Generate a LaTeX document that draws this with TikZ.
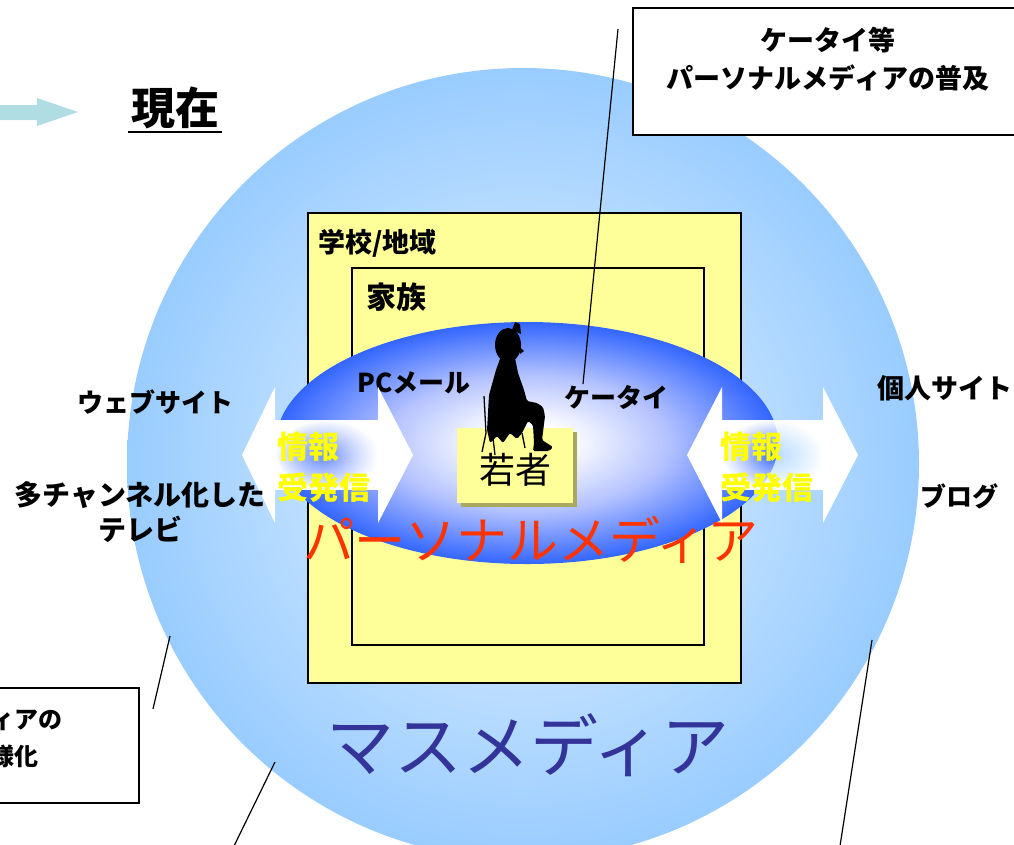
\documentclass[tikz,border=0pt]{standalone}
\usepackage{fontspec}
\setmainfont{Noto Sans CJK JP}
\usetikzlibrary{fadings}

\definecolor{massout}{HTML}{99CCFF}
\definecolor{massin}{HTML}{D2E9FF}
\definecolor{persout}{HTML}{3366FF}
\definecolor{persmid}{HTML}{B4C2FF}
\definecolor{boxyellow}{HTML}{FFFF99}
\definecolor{shadowolive}{HTML}{A8A860}
\definecolor{nowteal}{HTML}{B0DCE3}
\definecolor{redtext}{HTML}{FF3300}
\definecolor{massblue}{HTML}{333399}
\definecolor{infoyellow}{HTML}{FFFF00}

% soft glow of the mass-media disc and of the personal-media ellipse
\pgfdeclareradialshading{massglow}{\pgfpoint{0bp}{0bp}}{color(0bp)=(massin); color(7bp)=(massin); color(25bp)=(massout); color(50bp)=(massout)}
\pgfdeclareradialshading{persglow}{\pgfpoint{0bp}{0bp}}{color(0bp)=(white); color(4bp)=(white); color(14bp)=(persmid); color(25bp)=(persout); color(50bp)=(persout)}
% white rim that fades towards the middle of an arrow shaft
\tikzfading[name=rimfade, inner color=transparent!100, outer color=transparent!0]

\newcommand\fsz[2]{\fontsize{#1}{#2}\selectfont}

\begin{document}
\begin{tikzpicture}[x=1pt,y=-1pt,
  txt/.style={inner sep=0pt, text=black},
  boldlbl/.style={txt, font=\bfseries\fsz{26}{34}},
  infolbl/.style={inner sep=0pt, text=infoyellow, align=left, font=\bfseries\fsz{31}{41}},
  framebox/.style={draw=black, line width=1.3pt},
  leader/.style={draw=black, line width=1.2pt},
  chairline/.style={draw=black, line width=1.3pt},
  arrowhead/.style={fill=white},
  arrowshaft/.style={fill=white, path fading=rimfade}
]
\useasboundingbox (0,0) rectangle (1014,844);
\clip (0,0) rectangle (1014,844);

% mass media disc
\path[shading=massglow] (523,464) circle [radius=396];

% school / community and family frames
\path[framebox, fill=boxyellow] (308,213) rectangle (741,683);
\path[framebox, fill=boxyellow] (352,268) rectangle (704,645);
\node[boldlbl, anchor=west, font=\bfseries\fsz{27}{34}] (school) at (318,243) {学校/地域};
\node[boldlbl, anchor=west, font=\bfseries\fsz{30}{36}] (family) at (366,297) {家族};

% personal media ellipse
\path[shading=persglow] (527,443) ellipse [x radius=251, y radius=121];

% "young people" card with its shadow
\fill[shadowolive] (461,432) rectangle (577,507);
\fill[boxyellow] (457,428) rectangle (573,503);
\node[txt, font=\fsz{36}{40}] (youth) at (515,470) {若者};

% seated child silhouette: head, hair knot, body and chair
\fill[black] (508,345) ellipse [x radius=13, y radius=17];
\fill[black] (512,330) -- (515,322) -- (520,324) -- (521,334) -- cycle;
\fill[black] (519,346) -- (524,351) -- (520,354) -- cycle;
\fill[black, rounded corners=1.5pt]
  (501,356) -- (515,358) -- (518,373) -- (524,390) -- (527,401)
  -- (537,403) -- (543,407) -- (545,416) -- (542,440) -- (553,447) -- (549,451)
  -- (533,451) -- (534,443) -- (533,425) -- (528,421) -- (522,433) -- (517,439)
  -- (510,433) -- (503,443) -- (497,436) -- (490,443) -- (487,430) -- (489,395)
  -- (496,370) -- cycle;
\draw[chairline] (484,396) -- (486,433) -- (482,452);
\draw[chairline] (522,433) -- (525,448);
\draw[chairline] (493,438) -- (495,455);

% labels inside the ellipse
\node[boldlbl] (pcmail) at (414,383) {PCメール};
\node[boldlbl] (keitai) at (616,397) {ケータイ};
\node[txt, text=redtext, font=\fsz{51}{56}] (persmedia) at (531,540) {パーソナルメディア};

% left two-way arrow
\fill[arrowhead] (242,455) -- (275,387) -- (275,523) -- cycle;
\fill[arrowhead] (413,455) -- (378,387) -- (378,523) -- cycle;
\path[arrowshaft] (275,420) rectangle (378,490);
\node[infolbl, anchor=west] (infoL) at (277,467) {情報\\受発信};

% right two-way arrow
\fill[arrowhead] (687,455) -- (722,387) -- (722,523) -- cycle;
\fill[arrowhead] (858,455) -- (823,387) -- (823,523) -- cycle;
\path[arrowshaft] (722,420) rectangle (823,490);
\node[infolbl, anchor=west] (infoR) at (720,467) {情報\\受発信};

% outer labels
\node[boldlbl] (web) at (155,402) {ウェブサイト};
\node[boldlbl, align=center, font=\bfseries\fsz{28}{35}] (tv) at (140,512) {多チャンネル化した\\テレビ};
\node[boldlbl, anchor=west, font=\bfseries\fsz{27}{34}] (personal) at (877,388) {個人サイト};
\node[boldlbl] (blog) at (959,496) {ブログ};

\node[txt, text=massblue, font=\fsz{68}{72}] (massmedia) at (528,745) {マスメディア};

% "now" heading with its arrow
\fill[nowteal] (0,105) -- (37,105) -- (37,98) -- (78,112) -- (37,126) -- (37,120) -- (0,120) -- cycle;
\node[txt, font=\bfseries\fsz{44}{48}] (now) at (175,108) {現在};
\draw[line width=2.6pt] (128,132) -- (222,132);

% callout boxes
\path[framebox, fill=white] (633,8) rectangle (1030,135);
\node[boldlbl, align=center, font=\bfseries\fsz{27}{38}] (spread) at (828,59) {ケータイ等\\パーソナルメディアの普及};
\path[framebox, fill=white] (-140,688) rectangle (139,803);
\node[boldlbl, align=center, font=\bfseries\fsz{24}{37}] (diverse) at (3,738) {メディアの\\多様化};

% leader lines
\coordinate (k1) at (618,29);
\coordinate (k2) at (583,384);
\draw[leader] (k1) -- (k2);
\coordinate (a1) at (170,636);
\coordinate (a2) at (153,709);
\draw[leader] (a1) -- (a2);
\coordinate (b1) at (275,762);
\coordinate (b2) at (234,846);
\draw[leader] (b1) -- (b2);
\coordinate (c1) at (872,640);
\coordinate (c2) at (840,846);
\draw[leader] (c1) -- (c2);
\end{tikzpicture}
\end{document}
